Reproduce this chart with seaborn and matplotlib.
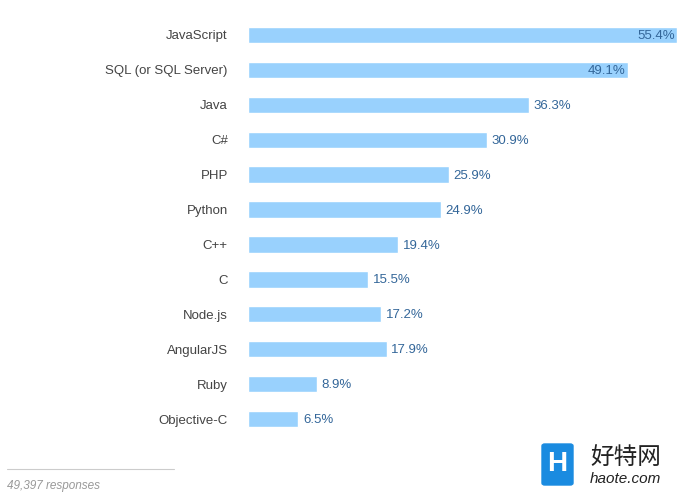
import seaborn as sns
import pandas as pd
import matplotlib.pyplot as plt
from matplotlib.patches import FancyBboxPatch

languages = ['JavaScript', 'SQL (or SQL Server)', 'Java', 'C#', 'PHP', 'Python',
             'C++', 'C', 'Node.js', 'AngularJS', 'Ruby', 'Objective-C']
shares = [55.4, 49.1, 36.3, 30.9, 25.9, 24.9, 19.4, 15.5, 17.2, 17.9, 8.9, 6.5]
responses = '49,397 responses'

df = pd.DataFrame({'language': languages, 'share': shares})

sns.set_style('white')
plt.rcParams['font.family'] = ['Liberation Sans', 'Noto Sans CJK SC', 'DejaVu Sans']

fig = plt.figure(figsize=(6.89, 4.95), dpi=100)
ax = fig.add_axes([248 / 689, 1 - 436.5 / 495, 429 / 689, 419 / 495])

sns.barplot(data=df, y='language', x='share', color='#99d1fd', saturation=1,
            width=0.47, ax=ax)
ax.set_xlim(0, 55.4)
ax.set_ylim(11.5, -0.5)
ax.set_xlabel('')
ax.set_ylabel('')
ax.set_xticks([])
ax.tick_params(axis='y', length=0, pad=14.5, labelsize=9.5, labelcolor='#444444')
sns.despine(ax=ax, left=True, bottom=True)

# value labels: inside for the two longest bars, outside otherwise
for i, v in enumerate(shares):
    if v > 45:
        ax.text(v - 0.3, i + 0.03, f'{v}%', ha='right', va='center',
                fontsize=9.5, color='#336699')
    else:
        ax.text(v + 0.6, i + 0.03, f'{v}%', ha='left', va='center',
                fontsize=9.5, color='#336699')

# footer
fig.add_artist(plt.Line2D([7 / 689, 174 / 689], [1 - 469 / 495] * 2,
                          color='#cccccc', lw=0.8))
fig.text(7 / 689, 1 - 486 / 495, responses, fontsize=8.5, style='italic',
         color='#999999', va='center')

# watermark
logo = FancyBboxPatch((542 / 689, 1 - 485 / 495), 31 / 689, 41 / 495,
                      boxstyle='round,pad=0,rounding_size=0.004',
                      transform=fig.transFigure, color='#1a8be0')
fig.add_artist(logo)
fig.text(557.5 / 689, 1 - 464 / 495, 'H', fontsize=20, fontweight='bold',
         color='white', ha='center', va='center')
fig.text(590 / 689, 1 - 457 / 495, '好特网', fontsize=17, color='#222222',
         va='center', family=['Noto Sans CJK SC', 'DejaVu Sans'])
fig.text(590 / 689, 1 - 479 / 495, 'haote.com', fontsize=11, style='italic',
         color='#222222', va='center')

fig.savefig('out.png', dpi=100)
